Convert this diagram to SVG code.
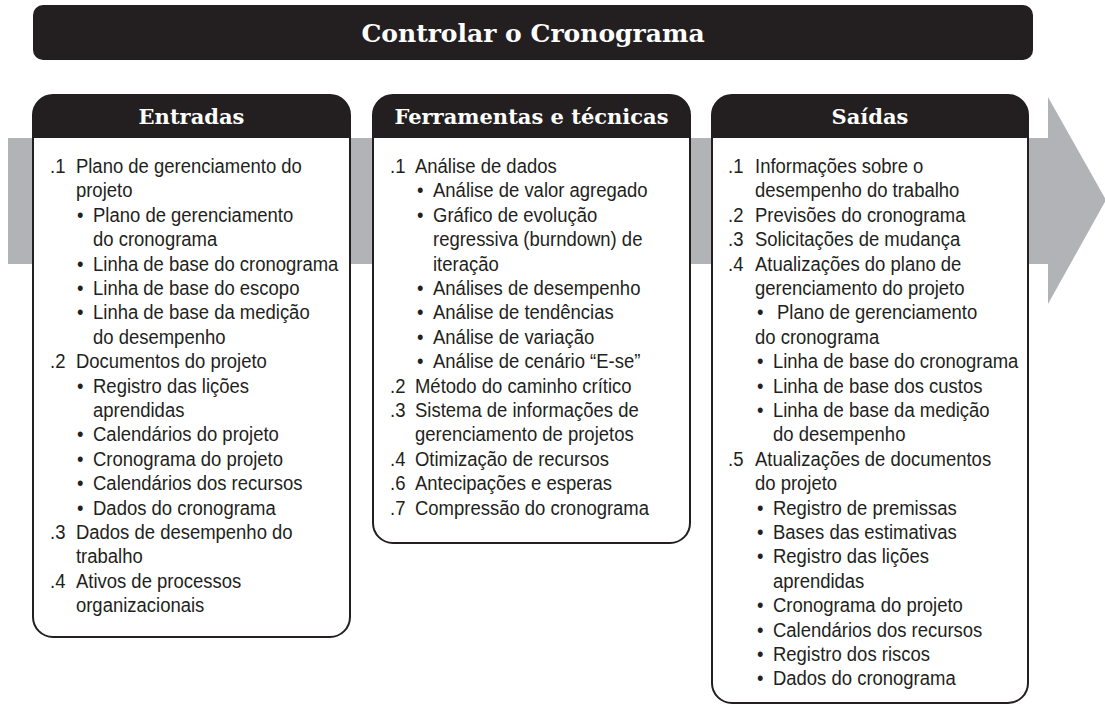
<svg xmlns="http://www.w3.org/2000/svg" width="1105" height="706" viewBox="0 0 1105 706">
<style>
.hdr{font-family:"DejaVu Serif",serif;font-weight:bold;fill:#fff;text-anchor:middle}
.t{font-family:"Liberation Sans",Arial,sans-serif;font-size:21px;fill:#231f20}
.box{fill:#fff;stroke:#231f20;stroke-width:2}
.blk{fill:#231f20}
.band{fill:#b1b3b6}
</style>
<rect width="1105" height="706" fill="#fff"/>
<g id="arrow">
<rect class="band" x="8" y="138" width="1042" height="126"/>
<polygon class="band" points="1048,97 1106,200 1048,304"/>
</g>
<g id="title">
<rect class="blk" x="33" y="5" width="1000" height="55" rx="10"/>
<text class="hdr" x="533" y="42" font-size="25">Controlar o Cronograma</text>
</g>
<g id="entradas">
<rect class="box" x="33" y="95" width="317" height="542" rx="20"/>
<path class="blk" d="M33,138 V115 A20,20 0 0 1 53,95 H330 A20,20 0 0 1 350,115 V138 Z"/>
<text class="hdr" x="191.5" y="124" font-size="21">Entradas</text>
<g transform="translate(50,0) scale(0.88,1)">
<text class="t">
<tspan x="0" y="173">.1</tspan><tspan x="29.5" y="173">Plano de gerenciamento do</tspan>
<tspan x="29.5" y="197.4">projeto</tspan>
<tspan x="30.7" y="221.8">•</tspan><tspan x="48.9" y="221.8">Plano de gerenciamento</tspan>
<tspan x="48.9" y="246.2">do cronograma</tspan>
<tspan x="30.7" y="270.6">•</tspan><tspan x="48.9" y="270.6">Linha de base do cronograma</tspan>
<tspan x="30.7" y="295">•</tspan><tspan x="48.9" y="295">Linha de base do escopo</tspan>
<tspan x="30.7" y="319.4">•</tspan><tspan x="48.9" y="319.4">Linha de base da medição</tspan>
<tspan x="48.9" y="343.8">do desempenho</tspan>
<tspan x="0" y="368.2">.2</tspan><tspan x="29.5" y="368.2">Documentos do projeto</tspan>
<tspan x="30.7" y="392.6">•</tspan><tspan x="48.9" y="392.6">Registro das lições</tspan>
<tspan x="48.9" y="417">aprendidas</tspan>
<tspan x="30.7" y="441.4">•</tspan><tspan x="48.9" y="441.4">Calendários do projeto</tspan>
<tspan x="30.7" y="465.8">•</tspan><tspan x="48.9" y="465.8">Cronograma do projeto</tspan>
<tspan x="30.7" y="490.2">•</tspan><tspan x="48.9" y="490.2">Calendários dos recursos</tspan>
<tspan x="30.7" y="514.6">•</tspan><tspan x="48.9" y="514.6">Dados do cronograma</tspan>
<tspan x="0" y="539">.3</tspan><tspan x="29.5" y="539">Dados de desempenho do</tspan>
<tspan x="29.5" y="563.4">trabalho</tspan>
<tspan x="0" y="587.8">.4</tspan><tspan x="29.5" y="587.8">Ativos de processos</tspan>
<tspan x="29.5" y="612.2">organizacionais</tspan>
</text>
</g>
</g>
<g id="ferramentas">
<rect class="box" x="373" y="95" width="317" height="448" rx="20"/>
<path class="blk" d="M373,138 V115 A20,20 0 0 1 393,95 H670 A20,20 0 0 1 690,115 V138 Z"/>
<text class="hdr" x="531.5" y="124" font-size="21">Ferramentas e técnicas</text>
<g transform="translate(390,0) scale(0.88,1)">
<text class="t">
<tspan x="0" y="173">.1</tspan><tspan x="28.4" y="173">Análise de dados</tspan>
<tspan x="30.7" y="197.4">•</tspan><tspan x="48.9" y="197.4">Análise de valor agregado</tspan>
<tspan x="30.7" y="221.8">•</tspan><tspan x="48.9" y="221.8">Gráfico de evolução</tspan>
<tspan x="48.9" y="246.2">regressiva (burndown) de</tspan>
<tspan x="48.9" y="270.6">iteração</tspan>
<tspan x="30.7" y="295">•</tspan><tspan x="48.9" y="295">Análises de desempenho</tspan>
<tspan x="30.7" y="319.4">•</tspan><tspan x="48.9" y="319.4">Análise de tendências</tspan>
<tspan x="30.7" y="343.8">•</tspan><tspan x="48.9" y="343.8">Análise de variação</tspan>
<tspan x="30.7" y="368.2">•</tspan><tspan x="48.9" y="368.2">Análise de cenário “E-se”</tspan>
<tspan x="0" y="392.6">.2</tspan><tspan x="28.4" y="392.6">Método do caminho crítico</tspan>
<tspan x="0" y="417">.3</tspan><tspan x="28.4" y="417">Sistema de informações de</tspan>
<tspan x="28.4" y="441.4">gerenciamento de projetos</tspan>
<tspan x="0" y="465.8">.4</tspan><tspan x="28.4" y="465.8">Otimização de recursos</tspan>
<tspan x="0" y="490.2">.6</tspan><tspan x="28.4" y="490.2">Antecipações e esperas</tspan>
<tspan x="0" y="514.6">.7</tspan><tspan x="28.4" y="514.6">Compressão do cronograma</tspan>
</text>
</g>
</g>
<g id="saidas">
<rect class="box" x="712" y="95" width="316" height="608" rx="20"/>
<path class="blk" d="M712,138 V115 A20,20 0 0 1 732,95 H1008 A20,20 0 0 1 1028,115 V138 Z"/>
<text class="hdr" x="870" y="124" font-size="21">Saídas</text>
<g transform="translate(728,0) scale(0.88,1)">
<text class="t">
<tspan x="0" y="173">.1</tspan><tspan x="30.7" y="173">Informações sobre o</tspan>
<tspan x="30.7" y="197.4">desempenho do trabalho</tspan>
<tspan x="0" y="221.8">.2</tspan><tspan x="30.7" y="221.8">Previsões do cronograma</tspan>
<tspan x="0" y="246.2">.3</tspan><tspan x="30.7" y="246.2">Solicitações de mudança</tspan>
<tspan x="0" y="270.6">.4</tspan><tspan x="30.7" y="270.6">Atualizações do plano de</tspan>
<tspan x="30.7" y="295">gerenciamento do projeto</tspan>
<tspan x="33" y="319.4">•</tspan><tspan x="55.7" y="319.4">Plano de gerenciamento</tspan>
<tspan x="30.7" y="343.8">do cronograma</tspan>
<tspan x="33" y="368.2">•</tspan><tspan x="51.1" y="368.2">Linha de base do cronograma</tspan>
<tspan x="33" y="392.6">•</tspan><tspan x="51.1" y="392.6">Linha de base dos custos</tspan>
<tspan x="33" y="417">•</tspan><tspan x="51.1" y="417">Linha de base da medição</tspan>
<tspan x="51.1" y="441.4">do desempenho</tspan>
<tspan x="0" y="465.8">.5</tspan><tspan x="30.7" y="465.8">Atualizações de documentos</tspan>
<tspan x="30.7" y="490.2">do projeto</tspan>
<tspan x="33" y="514.6">•</tspan><tspan x="51.1" y="514.6">Registro de premissas</tspan>
<tspan x="33" y="539">•</tspan><tspan x="51.1" y="539">Bases das estimativas</tspan>
<tspan x="33" y="563.4">•</tspan><tspan x="51.1" y="563.4">Registro das lições</tspan>
<tspan x="51.1" y="587.8">aprendidas</tspan>
<tspan x="33" y="612.2">•</tspan><tspan x="51.1" y="612.2">Cronograma do projeto</tspan>
<tspan x="33" y="636.6">•</tspan><tspan x="51.1" y="636.6">Calendários dos recursos</tspan>
<tspan x="33" y="661">•</tspan><tspan x="51.1" y="661">Registro dos riscos</tspan>
<tspan x="33" y="685.4">•</tspan><tspan x="51.1" y="685.4">Dados do cronograma</tspan>
</text>
</g>
</g>
<g id="connectors"></g>
</svg>
